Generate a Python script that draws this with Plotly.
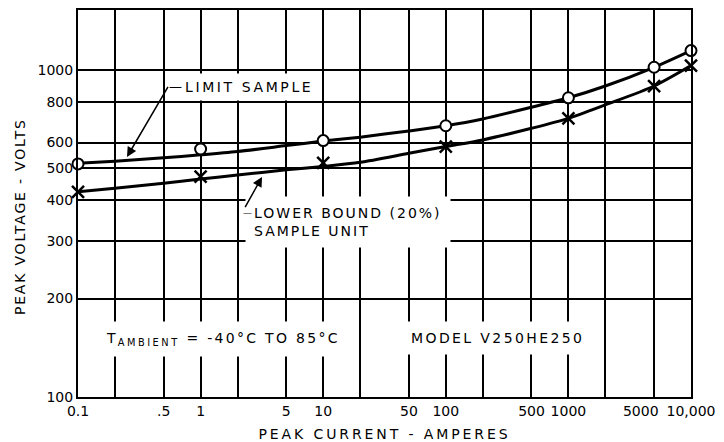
import math
import plotly.graph_objects as go

# ---- data ----
curve_x = [0.1, 0.2, 0.5, 1, 2, 5, 10, 20, 50, 100, 200, 500, 1000, 2000, 5000, 10000]
limit_curve = [518, 526, 539, 550, 563, 587, 606, 623, 651, 675, 708, 769, 822, 893, 1019, 1146]
lower_curve = [424, 435, 450, 464, 477, 495, 507, 522, 556, 583, 611, 663, 711, 782, 893, 1031]

pts_x = [0.1, 1, 10, 100, 1000, 5000, 10000]
limit_pts = [516, 573, 608, 675, 822, 1019, 1146]
lower_pts = [424, 472, 520, 583, 711, 893, 1031]

NB = "\u00a0"
x_tickvals = [0.1, 0.5, 1, 5, 10, 50, 100, 500, 1000, 5000, 10000]
x_ticktext = ["0.1", ".5", "1", "5", "10", "50", "100", "500", "1000",
              "5000" + NB * 6, "10,000"]
y_tickvals = [100, 200, 300, 400, 500, 600, 800, 1000]
y_ticktext = ["100", "200", "300", "400", "500", "600", "800", "1000"]

FONT = "DejaVu Sans"
L = math.log10


def wide(s, sp=2.3):
    return '<span style="letter-spacing:%.1fpx">%s</span>' % (sp, s)


fig = go.Figure()
fig.add_trace(go.Scatter(x=curve_x, y=limit_curve, mode="lines",
                         line=dict(color="black", width=3, shape="spline", smoothing=0.8),
                         showlegend=False, hoverinfo="skip"))
fig.add_trace(go.Scatter(x=curve_x, y=lower_curve, mode="lines",
                         line=dict(color="black", width=3, shape="spline", smoothing=0.8),
                         showlegend=False, hoverinfo="skip"))
fig.add_trace(go.Scatter(x=pts_x, y=limit_pts, mode="markers",
                         marker=dict(symbol="circle", size=11, color="white",
                                     line=dict(color="black", width=2)),
                         showlegend=False, cliponaxis=False))
fig.add_trace(go.Scatter(x=pts_x, y=lower_pts, mode="markers",
                         marker=dict(symbol="x-thin-open", size=12, color="black",
                                     line=dict(color="black", width=2.5)),
                         showlegend=False, cliponaxis=False))

tfont = dict(family=FONT, size=14, color="black")
annotations = [
    # text labels with white boxes
    dict(x=L(0.667), y=L(887), xref="x", yref="y", text=wide("LIMIT SAMPLE", 2.6),
         showarrow=False, xanchor="left", yanchor="middle", bgcolor="white",
         borderpad=5, font=tfont),
    dict(x=L(2.30), y=L(343), xref="x", yref="y",
         text=wide("LOWER BOUND (20%)", 2.0) + "<br>" + wide("SAMPLE UNIT", 2.0),
         showarrow=False, xanchor="left", yanchor="middle", align="left",
         bgcolor="white", borderpad=8, font=tfont),
    dict(x=L(0.143), y=L(150), xref="x", yref="y",
         text=wide("T") + "<sub>" + wide("AMBIENT", 2.5) + "</sub>" + wide(" = -40°C TO 85°C"),
         showarrow=False,
         xanchor="left", yanchor="middle", bgcolor="white", borderpad=8, font=tfont),
    dict(x=L(44.0), y=L(151), xref="x", yref="y", text=wide("MODEL V250HE250", 2.4),
         showarrow=False, xanchor="left", yanchor="middle", bgcolor="white",
         borderpad=8, font=tfont),
    # y-axis title
    dict(x=-0.0946, y=0.465, xref="paper", yref="paper", text=wide("PEAK VOLTAGE - VOLTS", 1.8),
         textangle=-90, showarrow=False, xanchor="center", yanchor="middle", font=tfont),
    # leader arrows (the dash is the leader's horizontal tail)
    dict(x=L(0.251), y=L(542), xref="x", yref="y", ax=L(0.542), ay=L(887),
         axref="x", ayref="y", text="\u2014", xanchor="left", yanchor="middle",
         borderpad=0, showarrow=True, arrowhead=2, arrowsize=1.3,
         arrowwidth=1.5, arrowcolor="black", font=dict(family=FONT, size=13, color="black")),
    dict(x=L(3.17), y=L(471), xref="x", yref="y", ax=L(2.18), ay=L(366),
         axref="x", ayref="y", text="\u2014", xanchor="left", yanchor="middle",
         borderpad=0, showarrow=True, arrowhead=2, arrowsize=1.3,
         arrowwidth=1.5, arrowcolor="black", font=dict(family=FONT, size=9, color="black")),
]

fig.update_layout(
    width=724, height=442,
    margin=dict(l=78, r=33, t=10, b=45, autoexpand=False),
    paper_bgcolor="white", plot_bgcolor="white",
    font=dict(family=FONT, size=14, color="black"),
    annotations=annotations,
    showlegend=False,
)
fig.update_xaxes(type="log", range=[-1, 4], tickvals=x_tickvals, ticktext=x_ticktext,
                 tickangle=0, automargin=False,
                 showgrid=True, gridcolor="black", gridwidth=1.5,
                 minor=dict(dtick="D2", showgrid=True, gridcolor="black", gridwidth=1.5, ticks=""),
                 showline=True, linecolor="black", linewidth=2, mirror=True,
                 ticks="", zeroline=False,
                 title=dict(text=wide("PEAK CURRENT - AMPERES", 2.9), standoff=11,
                            font=dict(family=FONT, size=14)),
                 tickfont=dict(family=FONT, size=14))
fig.update_yaxes(type="log", range=[2, L(1525)], tickvals=y_tickvals, ticktext=y_ticktext,
                 automargin=False,
                 showgrid=True, gridcolor="black", gridwidth=1.5,
                 showline=True, linecolor="black", linewidth=2, mirror=True,
                 ticks="", zeroline=False,
                 tickfont=dict(family=FONT, size=14))

fig.write_html("out.html", config={"displayModeBar": False},
               post_script="document.body.style.margin='0';document.body.style.overflow='hidden';")
